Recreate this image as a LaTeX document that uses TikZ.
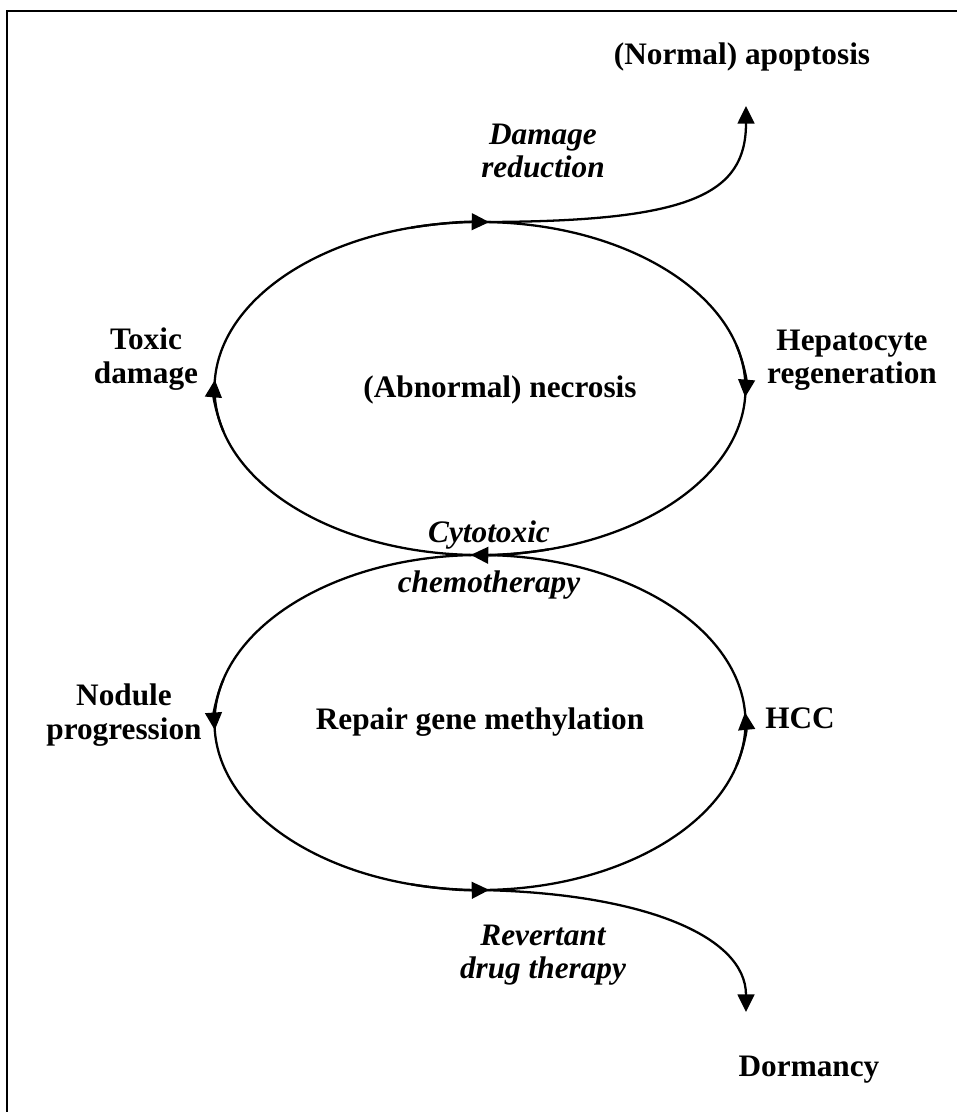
\documentclass[tikz,border=0pt]{standalone}
\usepackage{fontspec}
\setmainfont{Liberation Serif}
\usetikzlibrary{arrows.meta}

\tikzset{
  lbl/.style={font=\fontsize{17.8}{19}\selectfont\bfseries, align=center},
  note/.style={font=\fontsize{17.8}{19}\selectfont\bfseries\itshape, align=center},
  cyc/.style={line width=1.3pt},
  tri/.tip={Triangle[length=10pt,width=9.5pt]}
}

\begin{document}
\begin{tikzpicture}[x=0.02cm, y=0.02cm]
\useasboundingbox (0,0) rectangle (957,-1112);
% frame
\draw[line width=1pt] (7,-1112) -- (7,-11) -- (957,-11);

% upper cycle (clockwise), lower cycle (anticlockwise)
\coordinate (upc) at (480,-388.5);
\coordinate (lowc) at (480,-722.5);
\coordinate (uptop) at (480,-222);
\coordinate (lowbot) at (480,-890);
\draw[cyc] (upc) ellipse [x radius=265.5, y radius=166.5];
\draw[cyc] (lowc) ellipse [x radius=265.5, y radius=167.5];
\foreach \a/\b in {105/88, 15/-3, -75/-92, 195/177}
  \draw[cyc, -tri] (upc) ++(\a:265.5 and 166.5)
    arc[start angle=\a, end angle=\b, x radius=265.5, y radius=166.5];
\foreach \a/\b in {165/182.6, 255/272, -15/3.5}
  \draw[cyc, -tri] (lowc) ++(\a:265.5 and 167.5)
    arc[start angle=\a, end angle=\b, x radius=265.5, y radius=167.5];

% ways out
\coordinate (apop) at (746,-106);
\coordinate (dorm) at (746,-1012);
\draw[cyc, -tri] (uptop) .. controls (690,-222) and (746,-195) .. (apop);
\draw[cyc, -tri] (lowbot) .. controls (640,-893) and (746,-935) .. (dorm);

% labels
\node[lbl] (normal) at (742,-57) {(Normal) apoptosis};
\node[note] (dred) at (543,-151) {Damage\\reduction};
\node[lbl] (toxic) at (146,-359) {Toxic\\damage};
\node[lbl] (necro) at (500,-390) {(Abnormal) necrosis};
\node[lbl] (hepa) at (852,-360) {Hepatocyte\\regeneration};
\node[note] (chemo) at (489,-560) {Cytotoxic\\[9pt]chemotherapy};
\node[lbl] (nodule) at (124,-715) {Nodule\\progression};
\node[lbl] (repair) at (480,-722) {Repair gene methylation};
\node[lbl] (hcc) at (800,-718) {HCC};
\node[note] (revert) at (543,-955) {Revertant\\drug therapy};
\node[lbl] (dormancy) at (809,-1070) {Dormancy};
\end{tikzpicture}
\end{document}
